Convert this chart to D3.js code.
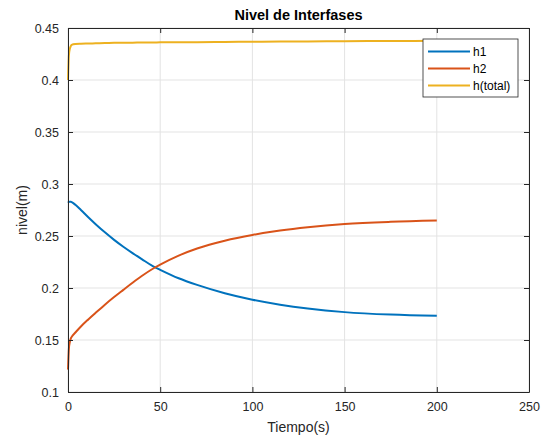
<!DOCTYPE html>
<html>
<head>
<meta charset="utf-8">
<script src="https://cdn.jsdelivr.net/npm/d3@7"></script>
<style>
  body { margin: 0; background: #fff; }
  text { font-family: "Liberation Sans", Arial, sans-serif; }
</style>
</head>
<body>
<div id="chart"></div>
<script>
const tiempo = [0, 0.5, 1, 1.5, 2, 4, 7, 11, 15, 20, 25, 30, 35, 40, 46, 50, 60, 70, 85, 100, 115, 130, 150, 175, 200];
const h1 = [0.2820, 0.2828, 0.2830, 0.2829, 0.2826, 0.2800, 0.2750, 0.2680, 0.2613, 0.2535, 0.2463, 0.2397, 0.2336, 0.2278, 0.2210, 0.2175, 0.2094, 0.2030, 0.1950, 0.1888, 0.1840, 0.1803, 0.1768, 0.1744, 0.1732];
const h2 = [0.1215, 0.142, 0.148, 0.1513, 0.153, 0.1572, 0.1630, 0.1698, 0.1762, 0.1840, 0.1913, 0.1982, 0.2050, 0.2115, 0.2185, 0.2225, 0.2312, 0.2380, 0.2455, 0.2510, 0.2552, 0.2584, 0.2615, 0.2636, 0.2648];
const hTotal = [0.400, 0.424, 0.430, 0.4325, 0.4338, 0.4346, 0.4349, 0.4351, 0.4353, 0.4355, 0.4357, 0.4358, 0.4359, 0.4360, 0.4361, 0.4362, 0.4363, 0.4364, 0.4366, 0.4368, 0.4370, 0.4371, 0.4373, 0.4375, 0.4377];
const xTicks = [0, 50, 100, 150, 200, 250];
const yTicks = [0.1, 0.15, 0.2, 0.25, 0.3, 0.35, 0.4, 0.45];
const seriesNames = ["h1", "h2", "h(total)"];
const seriesColors = ["#0072BD", "#D95319", "#EDB120"];

const width = 541;
const height = 437;
const margin = { top: 28, right: 12, bottom: 45, left: 68 };

const svg = d3.select("#chart")
    .append("svg")
    .attr("width", width)
    .attr("height", height);

const x = d3.scaleLinear()
    .domain([0, 250])
    .range([margin.left, width - margin.right]);

const y = d3.scaleLinear()
    .domain([0.1, 0.45])
    .range([height - margin.bottom, margin.top]);

// grid
svg.append("g")
    .selectAll("line")
    .data(xTicks)
    .join("line")
    .attr("x1", d => x(d)).attr("x2", d => x(d))
    .attr("y1", y(0.1)).attr("y2", y(0.45))
    .attr("stroke", "#e3e3e3").attr("stroke-width", 1);

svg.append("g")
    .selectAll("line")
    .data(yTicks)
    .join("line")
    .attr("x1", x(0)).attr("x2", x(250))
    .attr("y1", d => y(d)).attr("y2", d => y(d))
    .attr("stroke", "#e3e3e3").attr("stroke-width", 1);

// lines
const series = [h1, h2, hTotal];
const line = d3.line()
    .x((d, i) => x(tiempo[i]))
    .y(d => y(d))
    .curve(d3.curveMonotoneX);

series.forEach((s, k) => {
    svg.append("path")
        .datum(s)
        .attr("fill", "none")
        .attr("stroke", seriesColors[k])
        .attr("stroke-width", 2)
        .attr("stroke-linejoin", "round")
        .attr("d", line);
});

// axes, MATLAB style: ticks inside, box all round
function styleAxis(g) {
    g.select(".domain").attr("stroke", "#262626");
    g.selectAll(".tick line").attr("stroke", "#262626");
    g.selectAll(".tick text")
        .attr("fill", "#262626")
        .style("font-size", "12.5px");
}

svg.append("g")
    .attr("transform", `translate(0,${y(0.1)})`)
    .call(d3.axisBottom(x).tickValues(xTicks).tickSize(-5).tickSizeOuter(0).tickPadding(10))
    .call(styleAxis);

svg.append("g")
    .attr("transform", `translate(0,${y(0.45)})`)
    .call(d3.axisTop(x).tickValues(xTicks).tickSize(-5).tickSizeOuter(0).tickFormat(""))
    .call(styleAxis);

svg.append("g")
    .attr("transform", `translate(${x(0)},0)`)
    .call(d3.axisLeft(y).tickValues(yTicks).tickSize(-5).tickSizeOuter(0).tickPadding(9).tickFormat(d3.format("~g")))
    .call(styleAxis);

svg.append("g")
    .attr("transform", `translate(${x(250)},0)`)
    .call(d3.axisRight(y).tickValues(yTicks).tickSize(-5).tickSizeOuter(0).tickFormat(""))
    .call(styleAxis);

// title and labels
svg.append("text")
    .attr("x", (x(0) + x(250)) / 2)
    .attr("y", 20)
    .attr("text-anchor", "middle")
    .attr("font-weight", "bold")
    .attr("font-size", "14.5px")
    .attr("fill", "#000")
    .text("Nivel de Interfases");

svg.append("text")
    .attr("x", (x(0) + x(250)) / 2)
    .attr("y", 432)
    .attr("text-anchor", "middle")
    .attr("font-size", "14px")
    .attr("fill", "#262626")
    .text("Tiempo(s)");

svg.append("text")
    .attr("transform", "rotate(-90)")
    .attr("x", -(y(0.1) + y(0.45)) / 2)
    .attr("y", 27)
    .attr("text-anchor", "middle")
    .attr("font-size", "14px")
    .attr("fill", "#262626")
    .text("nivel(m)");

// legend
const legend = svg.append("g").attr("transform", "translate(423,39)");
legend.append("rect")
    .attr("width", 95).attr("height", 58)
    .attr("fill", "#fff").attr("stroke", "#262626").attr("stroke-width", 0.8);

seriesNames.forEach((name, k) => {
    const ly = 12.5 + k * 17;
    legend.append("line")
        .attr("x1", 5).attr("x2", 47)
        .attr("y1", ly).attr("y2", ly)
        .attr("stroke", seriesColors[k]).attr("stroke-width", 2);
    legend.append("text")
        .attr("x", 50).attr("y", ly + 4)
        .attr("font-size", "12px")
        .attr("fill", "#000")
        .text(name);
});
</script>
</body>
</html>
